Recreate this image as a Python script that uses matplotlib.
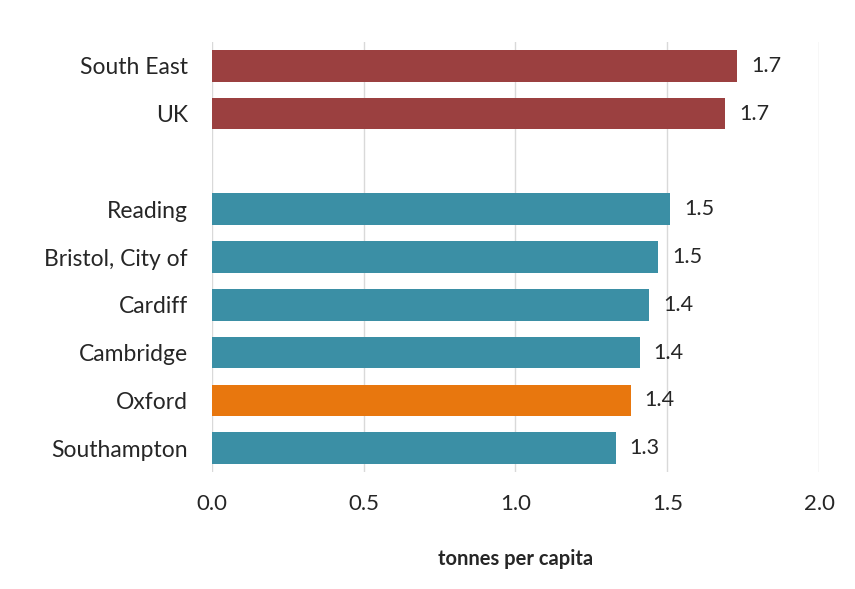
import matplotlib.pyplot as plt
import numpy as np

plt.rcParams['font.family'] = ['Lato', 'DejaVu Sans']

places = ['South East', 'UK', '', 'Reading', 'Bristol, City of', 'Cardiff',
          'Cambridge', 'Oxford', 'Southampton']
values = [1.73, 1.69, np.nan, 1.51, 1.47, 1.44, 1.41, 1.38, 1.33]
colours = ['#9b4040', '#9b4040', 'none', '#3b8fa5', '#3b8fa5', '#3b8fa5',
           '#3b8fa5', '#e8770e', '#3b8fa5']
xticks = [0.0, 0.5, 1.0, 1.5, 2.0]

fig = plt.figure(figsize=(8.55, 5.89), dpi=100)
ax = fig.add_axes([0.2474, 0.1986, 0.711, 0.7301])

ypos = np.arange(len(places))
ax.barh(ypos, np.nan_to_num(values), height=0.66, color=colours, zorder=3)

for y, v in zip(ypos, values):
    if not np.isnan(v):
        ax.text(v + 0.045, y, f"{v:.1f}", va='center', ha='left',
                fontsize=15.5, color='#262626')

ax.set_ylim(len(places) - 0.5, -0.5)
ax.set_xlim(0, 2.0)
ax.set_yticks(ypos)
ax.set_yticklabels(places, fontsize=16.5, color='#262626')
ax.set_xticks(xticks)
ax.set_xticklabels([f"{t:.1f}" for t in xticks], fontsize=16, color='#262626')
ax.tick_params(axis='both', length=0)
ax.tick_params(axis='y', pad=17)
ax.tick_params(axis='x', pad=16)
ax.grid(axis='x', color='#d9d9d9', linewidth=1, zorder=0)
for s in ax.spines.values():
    s.set_visible(False)

ax.set_xlabel('tonnes per capita', fontsize=14.5, fontweight='bold',
              color='#262626', labelpad=25)

fig.savefig('out.png', dpi=100)
